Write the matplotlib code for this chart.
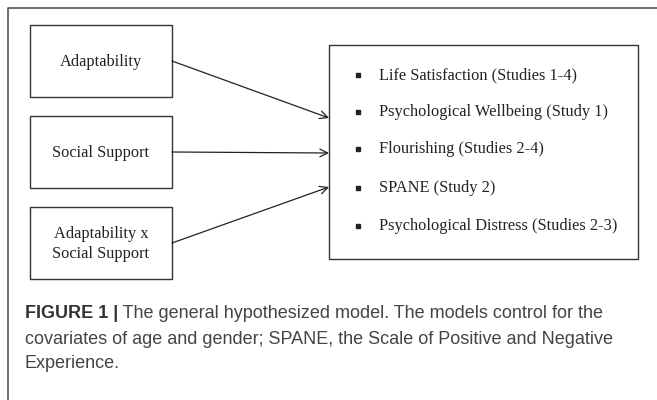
import matplotlib.pyplot as plt
from matplotlib.patches import Rectangle

# 内容
predictors = ['Adaptability', 'Social Support', 'Adaptability x\nSocial Support']
outcomes = ['Life Satisfaction (Studies 1-4)',
            'Psychological Wellbeing (Study 1)',
            'Flourishing (Studies 2-4)',
            'SPANE (Study 2)',
            'Psychological Distress (Studies 2-3)']
caption_bold = 'FIGURE 1 |'
caption_lines = [' The general hypothesized model. The models control for the',
                 'covariates of age and gender; SPANE, the Scale of Positive and Negative',
                 'Experience.']

fig = plt.figure(figsize=(6.57, 4.0), dpi=100)
ax = fig.add_axes([0, 0, 1, 1])
ax.set_xlim(0, 657)
ax.set_ylim(400, 0)
ax.axis('off')

# 外框（只有上边和左边）
ax.plot([8, 8, 657], [400, 8, 8], color='#555555', lw=1.2)

serif = 'Liberation Serif'
box_x, box_w, box_h = 30, 142, 72
box_tops = [25, 116, 207]
arrow_ends = [118, 153, 187]
rx0, ry0, rx1, ry1 = 329, 45, 638, 259

for lab, top, yend in zip(predictors, box_tops, arrow_ends):
    ax.add_patch(Rectangle((box_x, top), box_w, box_h, fill=False, ec='#333333', lw=1.0))
    ax.text(box_x + box_w / 2, top + box_h / 2 + 1, lab, ha='center', va='center',
            fontsize=11.8, family=serif, color='#222222', linespacing=1.35)
    ax.annotate('', xy=(rx0, yend), xytext=(box_x + box_w, top + box_h / 2),
                arrowprops=dict(arrowstyle='->', color='#222222', lw=0.9,
                                mutation_scale=14, shrinkA=0, shrinkB=0))

ax.add_patch(Rectangle((rx0, ry0), rx1 - rx0, ry1 - ry0, fill=False, ec='#333333', lw=1.0))
item_y = [75, 112, 149, 188, 226]
for txt, y in zip(outcomes, item_y):
    ax.plot(358, y, marker='s', ms=3.5, color='#222222')
    ax.text(379, y, txt, ha='left', va='center', fontsize=11.8, family=serif, color='#222222')

# 图注
sans = 'Liberation Sans'
cap_fs = 12.95
t = ax.text(25, 313, caption_bold, ha='left', va='center', fontsize=cap_fs,
            family=sans, weight='bold', color='#333333')
fig.canvas.draw()
bb = t.get_window_extent()
x_end = ax.transData.inverted().transform((bb.x1, bb.y0))[0]
ax.text(x_end, 313, caption_lines[0], ha='left', va='center', fontsize=cap_fs,
        family=sans, color='#444444')
ax.text(25, 339, caption_lines[1], ha='left', va='center', fontsize=cap_fs,
        family=sans, color='#444444')
ax.text(25, 364, caption_lines[2], ha='left', va='center', fontsize=cap_fs,
        family=sans, color='#444444')

plt.savefig('out.png', dpi=100)
plt.close()
